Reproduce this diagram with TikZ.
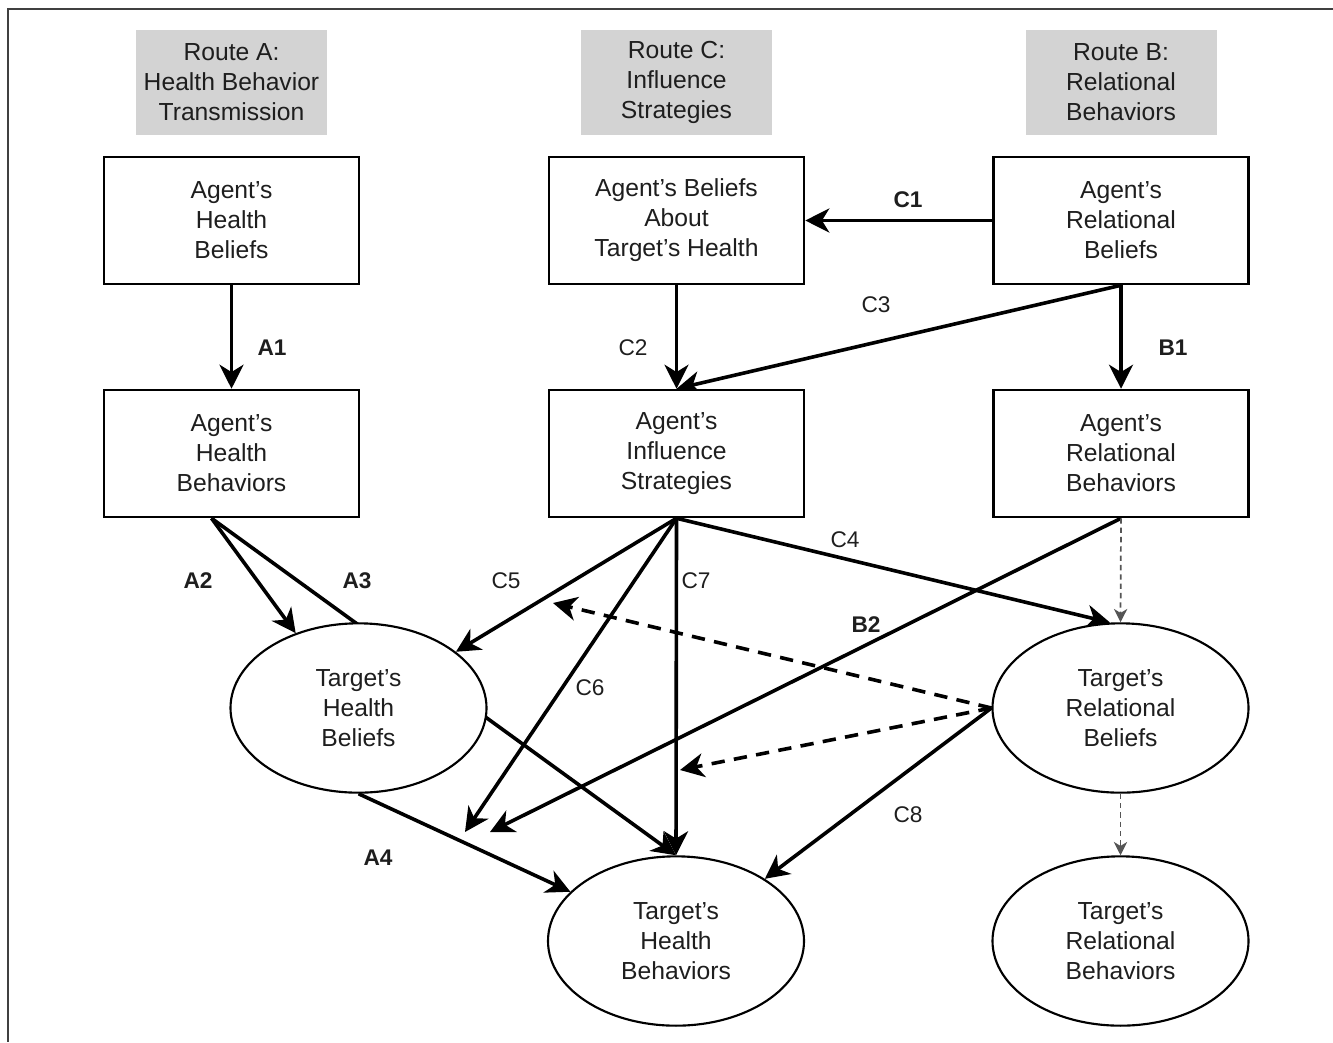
\documentclass[tikz,border=0pt]{standalone}
\usepackage{fontspec}
\setmainfont{Liberation Sans}
\usetikzlibrary{arrows.meta,calc,backgrounds,shapes.geometric}
\definecolor{routegray}{RGB}{211,211,211}
\definecolor{txt}{RGB}{30,30,30}
\definecolor{dgray}{RGB}{85,85,85}
\begin{document}
\begin{tikzpicture}[x=0.75pt,y=-0.75pt,
  bigfont/.style={font=\fontsize{18.5}{22.5}\selectfont, text=txt},
  box/.style={draw, line width=1.9pt, fill=white, minimum width=191.25pt, minimum height=95.25pt, inner sep=0pt, align=center, bigfont},
  oval/.style={ellipse, draw, line width=1.6pt, fill=white, minimum width=192pt, minimum height=127pt, inner sep=0pt, align=center, bigfont},
  route/.style={fill=routegray, minimum width=143.25pt, minimum height=78.75pt, inner sep=0pt, align=center, bigfont},
  lab/.style={font=\fontsize{17}{19}\selectfont, text=txt},
  blab/.style={font=\fontsize{17}{19}\selectfont\bfseries, text=txt},
  conn/.style={line width=2.7pt, -{Stealth[length=18pt,width=18pt,inset=5.5pt]}},
  modconn/.style={line width=2.7pt, dash pattern=on 10pt off 7pt, -{Stealth[length=18pt,width=18pt,inset=5.5pt]}},
  gconn/.style={line width=1.3pt, draw=dgray, dash pattern=on 4pt off 3pt, -{Stealth[length=10pt,width=10pt,inset=3pt]}, color=dgray}
]
\useasboundingbox (0,0) rectangle (1333,1042);
\draw[line width=1.5pt, draw=black!75] (1333,9) -- (8,9) -- (8,1042);

% route headers
\node[route] (ra) at (231.5,82.5) {Route A:\\Health Behavior\\Transmission};
\node[route] (rc) at (676.5,82.5) {Route C:\\Influence\\Strategies};
\node[route] (rb) at (1121,82.5) {Route B:\\Relational\\Behaviors};

% boxes
\node[box] (ahbel) at (231.5,220.5) {Agent's\\Health\\Beliefs};
\node[box] (abath) at (676.5,220.5) {Agent's Beliefs\\About\\Target's Health};
\node[box] (arbel) at (1121,220.5) {Agent's\\Relational\\Beliefs};
\node[box] (ahbeh) at (231.5,453.5) {Agent's\\Health\\Behaviors};
\node[box] (ais) at (676.5,453.5) {Agent's\\Influence\\Strategies};
\node[box] (arbeh) at (1121,453.5) {Agent's\\Relational\\Behaviors};

% ellipses
\node[oval] (thbel) at (358.5,708) {Target's\\Health\\Beliefs};
\node[oval] (trbel) at (1120.5,708) {Target's\\Relational\\Beliefs};
\node[oval] (thbeh) at (676,941) {Target's\\Health\\Behaviors};
\node[oval] (trbeh) at (1120.5,941) {Target's\\Relational\\Behaviors};

% free ends
\coordinate (c6end) at (465,832);
\coordinate (b2end) at (490,832);
\coordinate (m5) at (553,603);
\coordinate (m7) at (680,770);

\begin{scope}[on background layer]
\draw[conn] (ahbel.south) -- (ahbel.south |- ahbeh.north);
\draw[conn] (abath.south) -- (ais.north);
\draw[conn] (arbel.south) -- (arbel.south |- arbeh.north);
\draw[conn] (arbel.west) -- (abath.east);
\draw[conn] (arbel.south) -- (ais.north);
\draw[conn] ([xshift=-15pt]ahbeh.south) -- (thbel.130);
\draw[conn] ([xshift=-15pt]ahbeh.south) -- (thbeh.north);
\draw[conn] (thbel.south) -- (thbeh.155);
\draw[conn] (ais.south) -- (thbel.30);
\draw[conn] (ais.south) -- (c6end);
\draw[conn] (ais.south) -- (thbeh.north);
\draw[conn] (ais.south) -- (trbel.97);
\draw[conn] (arbeh.south) -- (b2end);
\draw[conn] (trbel.west) -- (thbeh.35);
\draw[modconn] (trbel.west) -- (m5);
\draw[modconn] (trbel.west) -- (m7);
\draw[gconn] (arbeh.south) -- (trbel.north);
\draw[gconn] (trbel.south) -- (trbeh.north);
\end{scope}

% labels
\node[blab] (la1) at (272,348) {A1};
\node[lab] (lc2) at (633,348) {C2};
\node[blab] (lb1) at (1173,348) {B1};
\node[blab] (lc1) at (908,200) {C1};
\node[lab] (lc3) at (876,305) {C3};
\node[blab] (la2) at (198,581) {A2};
\node[blab] (la3) at (357,581) {A3};
\node[lab] (lc5) at (506,581) {C5};
\node[lab] (lc7) at (696,581) {C7};
\node[lab] (lc4) at (845,540) {C4};
\node[blab] (lb2) at (866,625) {B2};
\node[lab] (lc6) at (590,688) {C6};
\node[blab] (la4) at (378,858) {A4};
\node[lab] (lc8) at (908,815) {C8};
\end{tikzpicture}
\end{document}
